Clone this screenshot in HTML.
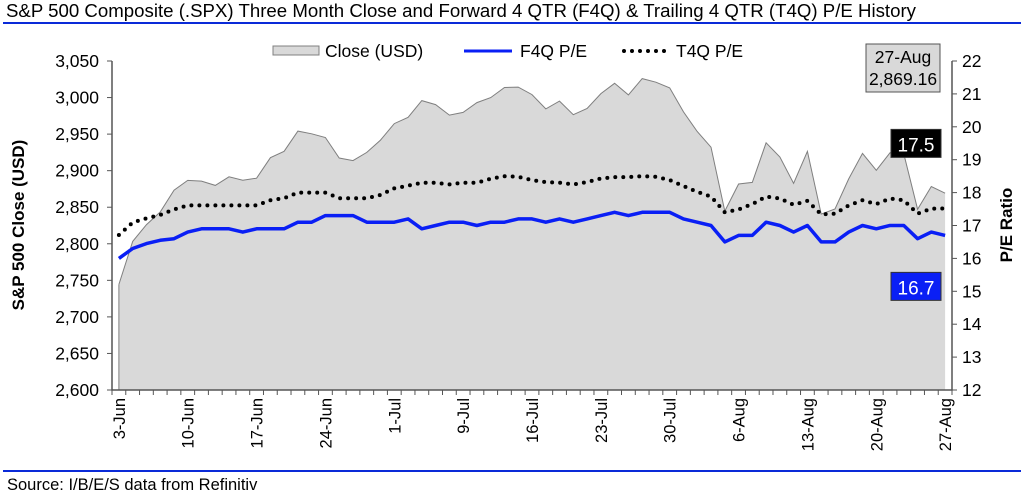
<!DOCTYPE html>
<html><head><meta charset="utf-8"><style>
body{margin:0;background:#fff;width:1024px;height:496px;overflow:hidden;font-family:"Liberation Sans",Arial,sans-serif}
svg text{font-family:"Liberation Sans",Arial,sans-serif}
</style></head><body>
<svg id="chart" width="1024" height="496" viewBox="0 0 1024 496" xmlns="http://www.w3.org/2000/svg">
<text x="6" y="17" font-size="18.6" fill="#000" textLength="910" lengthAdjust="spacingAndGlyphs">S&amp;P 500 Composite (.SPX) Three Month Close and Forward 4 QTR (F4Q) &amp; Trailing 4 QTR (T4Q) P/E History</text>
<line x1="3" y1="23" x2="1021" y2="23" stroke="#0a2ad8" stroke-width="2"/>
<line x1="3" y1="471" x2="1021" y2="471" stroke="#0a2ad8" stroke-width="2"/>
<text x="7" y="490" font-size="16.5" fill="#000">Source: I/B/E/S data from Refinitiv</text>
<g>
<rect x="273" y="46" width="46" height="9" fill="#d9d9d9" stroke="#808080"/>
<text x="325" y="57" font-size="17.5">Close (USD)</text>
<line x1="464" y1="51" x2="512" y2="51" stroke="#0a1ff5" stroke-width="3"/>
<text x="520" y="57" font-size="17.5">F4Q P/E</text>
<line x1="624" y1="51" x2="668" y2="51" stroke="#000" stroke-width="4" stroke-dasharray="0 8" stroke-linecap="round"/>
<text x="676" y="57" font-size="17.5">T4Q P/E</text>
</g>
<g id="plot"></g>
<text transform="translate(24,225) rotate(-90)" text-anchor="middle" font-size="17" font-weight="bold">S&amp;P 500 Close (USD)</text>
<text transform="translate(1012,225) rotate(-90)" text-anchor="middle" font-size="17" font-weight="bold">P/E Ratio</text>
<g>
<rect x="866" y="44" width="74" height="48" fill="#d9d9d9" stroke="#555"/>
<text x="903" y="63" text-anchor="middle" font-size="17.5">27-Aug</text>
<text x="903" y="85" text-anchor="middle" font-size="17.5">2,869.16</text>
</g>
</svg>
<script>
const dates=["3-Jun","4-Jun","5-Jun","6-Jun","7-Jun","10-Jun","11-Jun","12-Jun","13-Jun","14-Jun","17-Jun","18-Jun","19-Jun","20-Jun","21-Jun","24-Jun","25-Jun","26-Jun","27-Jun","28-Jun","1-Jul","2-Jul","3-Jul","5-Jul","8-Jul","9-Jul","10-Jul","11-Jul","12-Jul","15-Jul","16-Jul","17-Jul","18-Jul","19-Jul","22-Jul","23-Jul","24-Jul","25-Jul","26-Jul","29-Jul","30-Jul","31-Jul","1-Aug","2-Aug","5-Aug","6-Aug","7-Aug","8-Aug","9-Aug","12-Aug","13-Aug","14-Aug","15-Aug","16-Aug","19-Aug","20-Aug","21-Aug","22-Aug","23-Aug","26-Aug","27-Aug"];
const closeVals=[2744.45,2803.27,2826.15,2843.49,2873.34,2886.73,2885.72,2879.84,2891.64,2886.98,2889.67,2917.75,2926.46,2954.18,2950.46,2945.35,2917.38,2913.78,2924.92,2941.76,2964.33,2973.01,2995.82,2990.41,2975.95,2979.63,2993.07,2999.91,3013.77,3014.30,3004.04,2984.42,2995.11,2976.61,2985.03,3005.47,3019.56,3003.67,3025.86,3020.97,3013.18,2980.38,2953.56,2932.05,2844.74,2881.77,2883.98,2938.09,2918.65,2882.70,2926.32,2840.60,2847.60,2888.68,2923.65,2900.51,2924.43,2922.95,2847.11,2878.38,2869.16];
const f4q=[16.0,16.3,16.45,16.55,16.6,16.8,16.9,16.9,16.9,16.8,16.9,16.9,16.9,17.1,17.1,17.3,17.3,17.3,17.1,17.1,17.1,17.2,16.9,17.0,17.1,17.1,17.0,17.1,17.1,17.2,17.2,17.1,17.2,17.1,17.2,17.3,17.4,17.3,17.4,17.4,17.4,17.2,17.1,17.0,16.5,16.7,16.7,17.1,17.0,16.8,17.0,16.5,16.5,16.8,17.0,16.9,17.0,17.0,16.6,16.8,16.7];
const t4q=[16.71,17.09,17.22,17.32,17.49,17.61,17.61,17.61,17.61,17.61,17.61,17.77,17.83,18.0,18.0,18.0,17.83,17.83,17.83,17.93,18.13,18.21,18.3,18.3,18.25,18.3,18.3,18.42,18.5,18.48,18.38,18.32,18.3,18.25,18.32,18.43,18.47,18.47,18.5,18.48,18.38,18.2,18.02,17.88,17.4,17.49,17.65,17.88,17.82,17.63,17.75,17.34,17.36,17.61,17.77,17.65,17.82,17.77,17.36,17.51,17.52];
const leftTicks=[2600,2650,2700,2750,2800,2850,2900,2950,3000,3050];
const rightTicks=[12,13,14,15,16,17,18,19,20,21,22];
const labelEvery=5;

const NS="http://www.w3.org/2000/svg";
const X0=112,X1=952,Y0=390,Y1=61;
const n=dates.length, step=(X1-X0)/n;
const xs=i=>X0+(i+0.5)*step;
const yL=v=>Y0-(v-2600)/(3050-2600)*(Y0-Y1);
const yR=v=>Y0-(v-12)/(22-12)*(Y0-Y1);
const plot=document.getElementById('plot');
function mk(tag,attrs,parent){const e=document.createElementNS(NS,tag);for(const k in attrs)e.setAttribute(k,attrs[k]);(parent||plot).appendChild(e);return e;}

let d="M"+xs(0)+","+Y0;
closeVals.forEach((v,i)=>{d+=" L"+xs(i).toFixed(1)+","+yL(v).toFixed(1);});
d+=" L"+xs(n-1)+","+Y0+" Z";
const area=mk('path',{d:d,fill:'#d9d9d9',stroke:'none'});


const aline=mk('polyline',{points:closeVals.map((v,i)=>xs(i).toFixed(1)+","+yL(v).toFixed(1)).join(" "),fill:'none',stroke:'#7f7f7f','stroke-width':1});


const edgeL=mk('line',{x1:xs(0),y1:Y0,x2:xs(0),y2:yL(closeVals[0]),stroke:'#7f7f7f'});



const tl=mk('polyline',{points:t4q.map((v,i)=>xs(i).toFixed(1)+","+yR(v).toFixed(1)).join(" "),fill:'none',stroke:'#000','stroke-width':4,'stroke-dasharray':'0 8','stroke-linecap':'round'});


const fl=mk('polyline',{points:f4q.map((v,i)=>xs(i).toFixed(1)+","+yR(v).toFixed(1)).join(" "),fill:'none',stroke:'#0a1ff5','stroke-width':3.5,'stroke-linejoin':'round'});



const ax=mk('path',{d:`M${X0},${Y1} V${Y0} H${X1} V${Y1}`,fill:'none',stroke:'#555','stroke-width':1.5});


leftTicks.forEach(v=>{
  const y=yL(v);
  mk('line',{x1:X0-5,y1:y,x2:X0,y2:y,stroke:'#555'});
  const t=mk('text',{x:X0-13,y:y+6,'text-anchor':'end','font-size':17.5});
  t.textContent=v.toLocaleString('en-US');
  
  
});
rightTicks.forEach(v=>{
  const y=yR(v);
  mk('line',{x1:X1,y1:y,x2:X1+5,y2:y,stroke:'#555'});
  const t=mk('text',{x:X1+10,y:y+6,'font-size':17.5});
  t.textContent=v;
  
  
});
for(let i=0;i<=n;i++){const x=X0+i*step;mk('line',{x1:x,y1:Y0,x2:x,y2:Y0+5,stroke:'#555'});}
dates.forEach((dt,i)=>{
  if(i%labelEvery!==0)return;
  const x=xs(i)+6,y=Y0+8;
  const t=mk('text',{transform:`translate(${x.toFixed(1)},${y}) rotate(-90)`,'text-anchor':'end','font-size':16.5});
  t.textContent=dt;
  
  
});

function endLabel(v,bg,name){
  const y=yR(v);
  const g=mk('g',{});
  
  
  const yy=name==='t4q-end-label'?y-64:y+52;
  mk('rect',{x:891,y:yy-15,width:50,height:28,fill:bg,stroke:'#333'},g);
  const t=mk('text',{x:916,y:yy+7,'text-anchor':'middle','font-size':19,fill:'#fff'},g);
  t.textContent=v.toFixed(1);
}
endLabel(t4q[n-1],'#000','t4q-end-label');
endLabel(f4q[n-1],'#0a1ff5','f4q-end-label');
</script>
</body></html>
